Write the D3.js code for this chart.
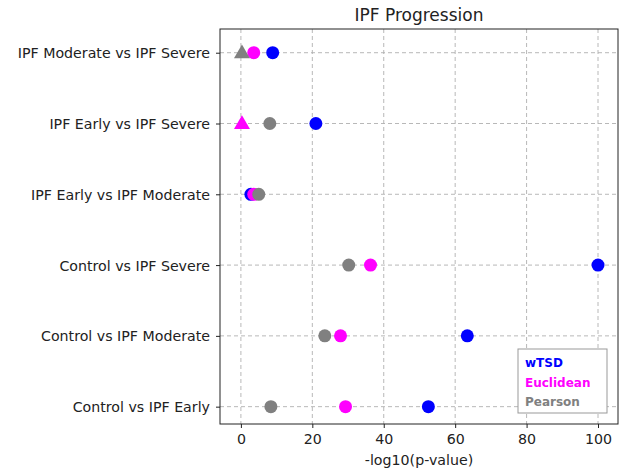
<!DOCTYPE html>
<html>
<head>
<meta charset="utf-8">
<script src="https://cdn.jsdelivr.net/npm/d3@7"></script>
<style>
	body { margin: 0; background: #fff; }
	svg text { font-family: "DejaVu Sans", sans-serif; fill: #222; }
</style>
</head>
<body>
<div id="chart"></div>
<script>
// comparisons, top to bottom
const comparisons = [
	"IPF Moderate vs IPF Severe",
	"IPF Early vs IPF Severe",
	"IPF Early vs IPF Moderate",
	"Control vs IPF Severe",
	"Control vs IPF Moderate",
	"Control vs IPF Early"
];

const methods = ["wTSD", "Euclidean", "Pearson"];
const methodColors = ["#0000ff", "#ff00ff", "#808080"];

// -log10(p-value) per method, same order as comparisons
const wtsdValues      = [8.9, 21.0, 2.8, 100.0, 63.4, 52.5];
const euclideanValues = [3.6, 0.3, 3.6, 36.3, 27.9, 29.3];
const pearsonValues   = [0.3, 8.1, 5.0, 30.2, 23.5, 8.4];

// points drawn as triangles (not significant)
const wtsdTriangle      = [false, false, false, false, false, false];
const euclideanTriangle = [false, true, false, false, false, false];
const pearsonTriangle   = [true, false, false, false, false, false];

const xTicks = [0, 20, 40, 60, 80, 100];

const fontSize = 14.2;

const width = 622,
	height = 471,
	margin = {top: 29, right: 4, bottom: 47, left: 220},
	innerWidth = width - margin.left - margin.right,
	innerHeight = height - margin.top - margin.bottom;

const series = [
	{name: methods[0], values: wtsdValues, tri: wtsdTriangle, color: methodColors[0]},
	{name: methods[1], values: euclideanValues, tri: euclideanTriangle, color: methodColors[1]},
	{name: methods[2], values: pearsonValues, tri: pearsonTriangle, color: methodColors[2]}
];

const x = d3.scaleLinear()
	.domain([-5.85, 105.6])
	.range([0, innerWidth]);

const y = d3.scaleLinear()
	.domain([-0.335, 5.245])
	.range([0, innerHeight]);

const svg = d3.select('#chart').append('svg')
	.attr('width', width)
	.attr('height', height)
	.style('display', 'block');

const g = svg.append('g')
	.attr('transform', `translate(${margin.left},${margin.top})`);

// grid
g.selectAll('.vgrid')
	.data(xTicks)
	.enter().append('line')
	.attr('x1', d => x(d)).attr('x2', d => x(d))
	.attr('y1', 0).attr('y2', innerHeight)
	.attr('stroke', '#b0b0b0')
	.attr('stroke-width', 0.9)
	.attr('stroke-dasharray', '4,3');

g.selectAll('.hgrid')
	.data(comparisons)
	.enter().append('line')
	.attr('x1', 0).attr('x2', innerWidth)
	.attr('y1', (d, i) => y(i)).attr('y2', (d, i) => y(i))
	.attr('stroke', '#b0b0b0')
	.attr('stroke-width', 0.9)
	.attr('stroke-dasharray', '4,3');

// axes
const xAxis = g.append('g')
	.attr('transform', `translate(0,${innerHeight})`)
	.call(d3.axisBottom(x).tickValues(xTicks).tickSize(4).tickPadding(5));

const yAxis = g.append('g')
	.call(d3.axisLeft(y)
		.tickValues(d3.range(comparisons.length))
		.tickFormat(i => comparisons[i])
		.tickSize(4).tickPadding(6));

[xAxis, yAxis].forEach(a => {
	a.attr('fill', null)
		.attr('font-size', fontSize)
		.attr('font-family', 'DejaVu Sans, sans-serif');
	a.select('.domain').remove();
	a.selectAll('line').attr('stroke', '#222');
	a.selectAll('text').attr('fill', '#222');
});

// swap em offsets for plain pixel positions
xAxis.selectAll('text').attr('dy', null).attr('y', 9 + fontSize * 0.76);
yAxis.selectAll('text').attr('dy', null).attr('y', fontSize * 0.36);

// points
const tri = d3.symbol().type(d3.symbolTriangle).size(110);

series.forEach(s => {
	const pts = s.values.map((v, i) => ({v, i, tri: s.tri[i]}));

	g.selectAll(null)
		.data(pts.filter(p => p.tri))
		.enter().append('path')
		.attr('d', tri)
		.attr('transform', p => `translate(${x(p.v)},${y(p.i) + 1})`)
		.attr('fill', s.color);

	g.selectAll(null)
		.data(pts.filter(p => !p.tri))
		.enter().append('circle')
		.attr('cx', p => x(p.v))
		.attr('cy', p => y(p.i))
		.attr('r', 6.5)
		.attr('fill', s.color);
});

// frame
g.append('rect')
	.attr('width', innerWidth)
	.attr('height', innerHeight)
	.attr('fill', 'none')
	.attr('stroke', '#222')
	.attr('stroke-width', 1);

// title and axis label
svg.append('text')
	.attr('x', margin.left + innerWidth / 2)
	.attr('y', 21)
	.attr('text-anchor', 'middle')
	.attr('font-size', 17)
	.text('IPF Progression');

svg.append('text')
	.attr('x', margin.left + innerWidth / 2)
	.attr('y', 465)
	.attr('text-anchor', 'middle')
	.attr('font-size', fontSize)
	.text('-log10(p-value)');

// legend
const legend = g.append('g')
	.attr('transform', `translate(${innerWidth - 100},${innerHeight - 75})`);

legend.append('rect')
	.attr('width', 89)
	.attr('height', 64)
	.attr('fill', '#fff')
	.attr('stroke', '#999');

legend.selectAll('text')
	.data(series)
	.enter().append('text')
	.attr('x', 7)
	.attr('y', (d, i) => 18 + i * 19.5)
	.attr('font-size', 12)
	.attr('font-weight', 'bold')
	.style('fill', d => d.color)
	.text(d => d.name);
</script>
</body>
</html>
